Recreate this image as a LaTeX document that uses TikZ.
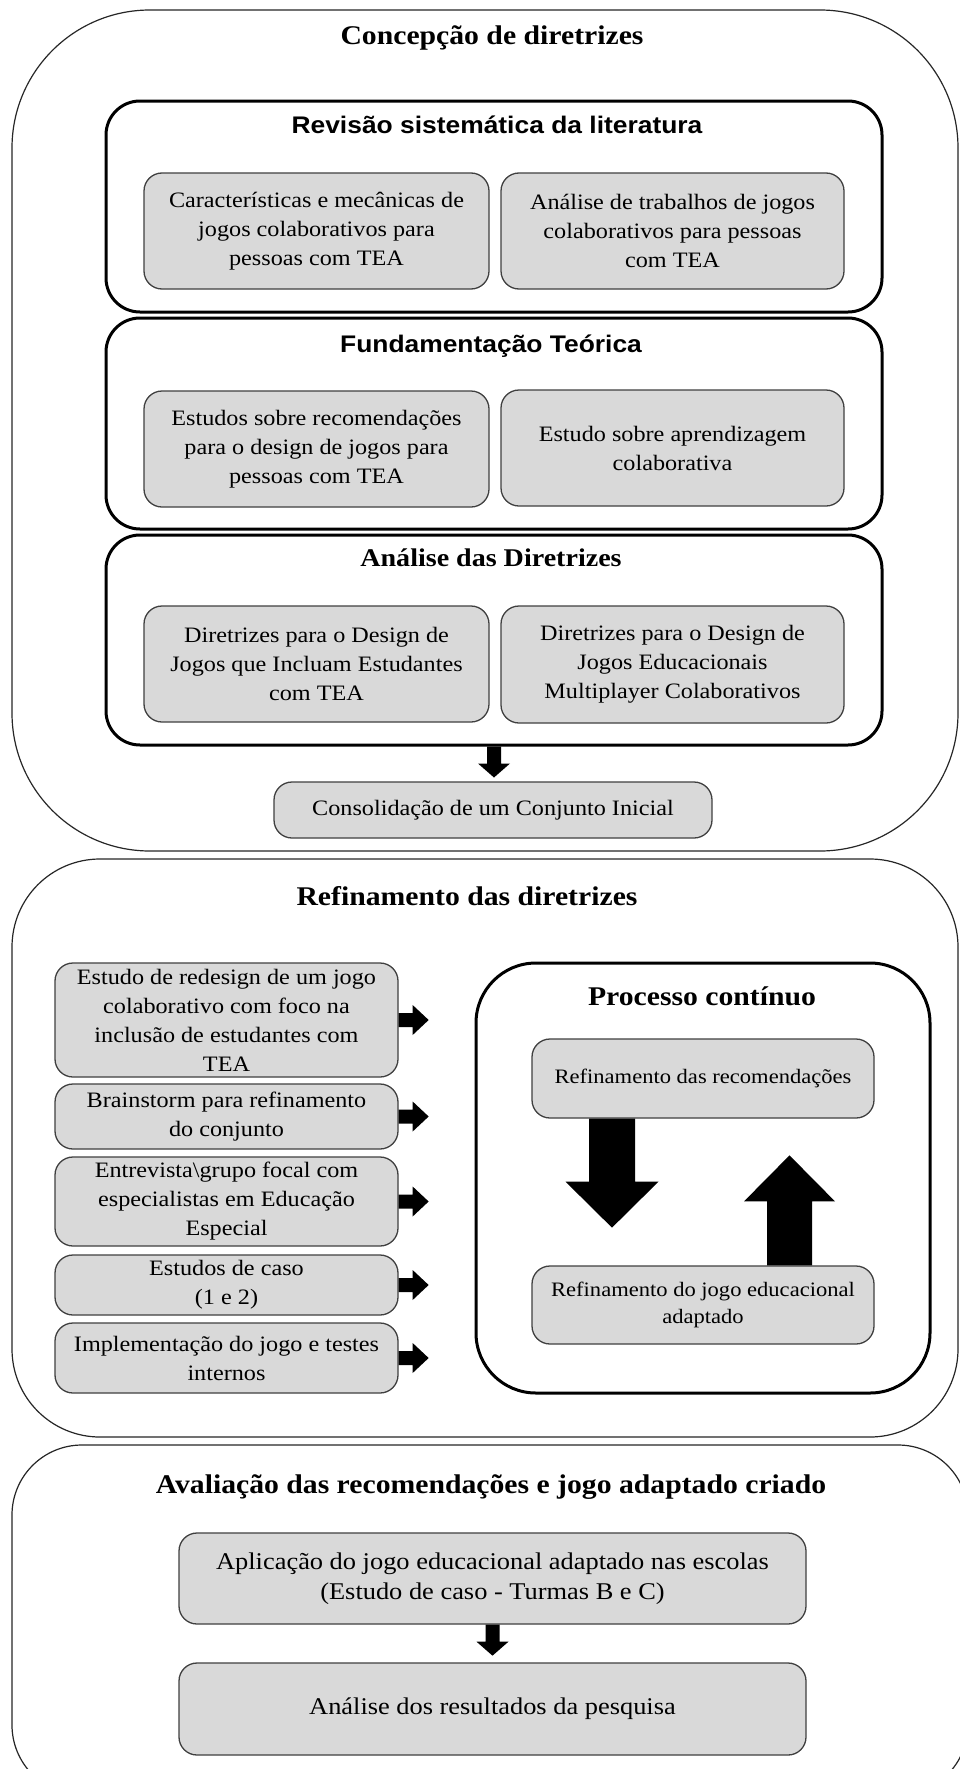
\documentclass[tikz,border=0pt]{standalone}
\usepackage{fontspec}
\setmainfont{Liberation Serif}[FakeStretch=1.1]
\setsansfont{Liberation Sans}[FakeStretch=1.1]
\usetikzlibrary{calc}
\definecolor{gfill}{RGB}{217,217,217}
\definecolor{gline}{RGB}{64,64,64}
\tikzset{
  obox/.style={draw=black!85, line width=1.2pt, fill=white, inner sep=0pt},
  wbox/.style={draw=black, line width=3pt, rounded corners=34pt, fill=white, inner sep=0pt},
  gbox/.style={draw=gline, line width=1.3pt, fill=gfill, rounded corners=18pt, inner sep=0pt, align=center,
     font=\fontsize{22}{29}\selectfont},
  pbox/.style={gbox, font=\fontsize{20.5}{27}\selectfont},
  abox/.style={gbox, font=\fontsize{24}{30}\selectfont},
  sertitle/.style={anchor=base, inner sep=0pt, font=\bfseries\fontsize{27}{32}\selectfont},
  santitle/.style={anchor=base, inner sep=0pt, font=\sffamily\bfseries\fontsize{24}{29}\selectfont},
  blk/.style={fill=black}
}
\begin{document}
\begin{tikzpicture}[x=1pt,y=-1pt]
\useasboundingbox (0,0) rectangle (960,1769);
\clip (0,0) rectangle (960,1769);

% ---------- outer boxes
\node[obox, rounded corners=138pt, minimum width=946pt, minimum height=841pt] (B1) at (485,430.5) {};
\node[obox, rounded corners=88pt, minimum width=946pt, minimum height=578pt] (B2) at (485,1148) {};
\node[obox, rounded corners=70pt, minimum width=956pt, minimum height=350pt] (B3) at (490,1620) {};

% ---------- box 1
\node[sertitle] (t1) at (492,45) {Concepção de diretrizes};

\node[wbox, minimum width=776pt, minimum height=211pt] (W1) at (494,206.5) {};
\node[santitle] (tw1) at (497,133) {Revisão sistemática da literatura};
\node[gbox, minimum width=345pt, minimum height=116pt] (c1) at (316.5,231)
  {Características e mecânicas de\\jogos colaborativos para\\pessoas com TEA};
\node[gbox, minimum width=343pt, minimum height=116pt] (c2) at (672.5,231)
  {Análise de trabalhos de jogos\\colaborativos para pessoas\\com TEA};

\node[wbox, minimum width=776pt, minimum height=211pt] (W2) at (494,423.5) {};
\node[santitle] (tw2) at (491,352) {Fundamentação Teórica};
\node[gbox, minimum width=345pt, minimum height=116pt] (c3) at (316.5,449)
  {Estudos sobre recomendações\\para o design de jogos para\\pessoas com TEA};
\node[gbox, minimum width=343pt, minimum height=116pt] (c4) at (672.5,448)
  {Estudo sobre aprendizagem\\colaborativa};

\node[wbox, minimum width=776pt, minimum height=210pt] (W3) at (494,640) {};
\node[sertitle, font=\bfseries\fontsize{25.5}{30}\selectfont] (tw3) at (491,566) {Análise das Diretrizes};
\node[gbox, minimum width=345pt, minimum height=116pt] (c5) at (316.5,664)
  {Diretrizes para o Design de\\Jogos que Incluam Estudantes\\com TEA};
\node[gbox, minimum width=343pt, minimum height=117pt] (c6) at (672.5,664.5)
  {Diretrizes para o Design de\\Jogos Educacionais\\Multiplayer Colaborativos};

\node[gbox, minimum width=438pt, minimum height=56pt] (cons) at (493,810)
  {Consolidação de um Conjunto Inicial};

\fill[blk, shift={(W3.south)}] (-7,0) -- (7,0) -- (7,17) -- (16,17) -- (0,31) -- (-16,17) -- (-7,17) -- cycle;

% ---------- box 2
\node[sertitle] (t2) at (467,905) {Refinamento das diretrizes};

\node[gbox, minimum width=343pt, minimum height=114pt] (s1) at (226.5,1020)
  {Estudo de redesign de um jogo\\colaborativo com foco na\\inclusão de estudantes com\\TEA};
\node[gbox, minimum width=343pt, minimum height=65pt] (s2) at (226.5,1116.5)
  {Brainstorm para refinamento\\do conjunto};
\node[gbox, minimum width=343pt, minimum height=89pt] (s3) at (226.5,1201.5)
  {Entrevista\textbackslash grupo focal com\\especialistas em Educação\\Especial};
\node[gbox, minimum width=343pt, minimum height=60pt] (s4) at (226.5,1285)
  {Estudos de caso\\(1 e 2)};
\node[gbox, minimum width=343pt, minimum height=70pt] (s5) at (226.5,1358)
  {Implementação do jogo e testes\\internos};

\foreach \s in {s1,s2,s3,s4,s5}{
  \fill[blk, shift={(\s.east)}] (0,-7) -- (14,-7) -- (14,-15) -- (30,0) -- (14,15) -- (14,7) -- (0,7) -- cycle;
}

\node[wbox, rounded corners=60pt, minimum width=454pt, minimum height=430pt] (P) at (703,1178) {};
\node[sertitle] (tp) at (702,1005) {Processo contínuo};
\node[pbox, minimum width=342pt, minimum height=79pt] (g1) at (703,1078.5)
  {Refinamento das recomendações};
\node[pbox, minimum width=342pt, minimum height=78pt] (g2) at (703,1305)
  {Refinamento do jogo educacional\\adaptado};

\fill[blk, shift={($(g1.south)+(-91,0)$)}] (-23,0) -- (23,0) -- (23,63) -- (46.5,63) -- (0,109) -- (-46.5,63) -- (-23,63) -- cycle;
\fill[blk, shift={($(g2.north)+(86.5,0)$)}] (-22.5,0) -- (22.5,0) -- (22.5,-64) -- (45.5,-64) -- (0,-110) -- (-45.5,-64) -- (-22.5,-64) -- cycle;

% ---------- box 3
\node[sertitle] (t3) at (491,1493) {Avaliação das recomendações e jogo adaptado criado};
\node[abox, minimum width=627pt, minimum height=91pt] (ap) at (492.5,1578.5)
  {Aplicação do jogo educacional adaptado nas escolas\\(Estudo de caso - Turmas B e C)};
\node[abox, minimum width=627pt, minimum height=92pt] (an) at (492.5,1709)
  {Análise dos resultados da pesquisa};
\fill[blk, shift={(ap.south)}] (-7,0) -- (7,0) -- (7,17) -- (16,17) -- (0,31) -- (-16,17) -- (-7,17) -- cycle;
\end{tikzpicture}
\end{document}
